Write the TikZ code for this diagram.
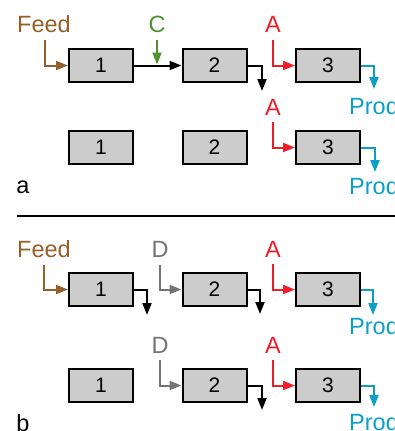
\documentclass[tikz,border=0pt]{standalone}
\usepackage{fontspec}
\setmainfont{Liberation Sans}
\usetikzlibrary{arrows.meta}
\definecolor{feedc}{RGB}{150,95,40}
\definecolor{cc}{RGB}{80,145,50}
\definecolor{ac}{RGB}{237,30,40}
\definecolor{prodc}{RGB}{10,160,200}
\definecolor{dc}{RGB}{115,115,115}
\definecolor{boxc}{RGB}{204,204,204}
\begin{document}
\begin{tikzpicture}[x=1pt,y=-1pt,
  unit/.style={draw=black,line width=2pt,fill=boxc,minimum width=64pt,minimum height=33pt,inner sep=0pt,font=\fontsize{21}{21}\selectfont},
  lab/.style={anchor=base,inner sep=0pt,font=\fontsize{23.5}{23.5}\selectfont},
  flow/.style={line width=2pt,-{Triangle[length=12pt,width=9pt]}},
  plain/.style={line width=2pt}]
\useasboundingbox (0,0) rectangle (395,431);
% ---------- panel a, row 1
\node[unit] (a11) at (101,65.5) {1};
\node[unit] (a12) at (214.5,65.5) {2};
\node[unit] (a13) at (328,65.5) {3};
\node[lab,text=feedc] (afeed) at (44,32) {Feed};
\node[lab,text=cc] (ac) at (157,32) {C};
\node[lab,text=ac] (aa1) at (273,32) {A};
\node[lab,text=prodc,anchor=base west] (ap1) at (349,114) {Prod};
\coordinate (afs) at (45,40);
\coordinate (acs) at (157,40);
\coordinate (acm) at (157,65.5);
\coordinate (aas1) at (273,40);
\coordinate (ae12) at (262,91);
\coordinate (ae13) at (374,89);
\draw[flow,feedc] (afs) |- (a11);
\draw[flow,black] (a11) -- (a12);
\draw[flow,cc] (acs) -- ([yshift=1pt]acm);
\draw[flow,black] (a12.east) -| (ae12);
\draw[flow,ac] (aas1) |- (a13);
\draw[flow,prodc] (a13.east) -| (ae13);
% ---------- panel a, row 2
\node[unit] (a21) at (101,147.5) {1};
\node[unit] (a22) at (214.5,147.5) {2};
\node[unit] (a23) at (328,147.5) {3};
\node[lab,text=ac] (aa2) at (273,115) {A};
\node[lab,text=prodc,anchor=base west] (ap2) at (349,194) {Prod};
\node[lab,anchor=base] (alab) at (23,193) {a};
\coordinate (aas2) at (273,122);
\coordinate (ae23) at (375,172);
\draw[flow,ac] (aas2) |- (a23);
\draw[flow,prodc] (a23.east) -| (ae23);
% ---------- separator
\coordinate (sepl) at (17,216);
\coordinate (sepr) at (395,216);
\draw[line width=1.6pt] (sepl) -- (sepr);
% ---------- panel b, row 1
\node[unit] (b11) at (101,289.5) {1};
\node[unit] (b12) at (214.5,289.5) {2};
\node[unit] (b13) at (328,289.5) {3};
\node[lab,text=feedc] (bfeed) at (44,257) {Feed};
\node[lab,text=dc] (bd1) at (160,257) {D};
\node[lab,text=ac] (ba1) at (273,257) {A};
\node[lab,text=prodc,anchor=base west] (bp1) at (349,334) {Prod};
\coordinate (bfs) at (44,265);
\coordinate (bds1) at (160,265);
\coordinate (bas1) at (273,264);
\coordinate (be11) at (147,315);
\coordinate (be12) at (260,314);
\coordinate (be13) at (373,315);
\draw[flow,feedc] (bfs) |- (b11);
\draw[flow,black] (b11.east) -| (be11);
\draw[flow,dc] (bds1) |- (b12);
\draw[flow,black] (b12.east) -| (be12);
\draw[flow,ac] (bas1) |- (b13);
\draw[flow,prodc] (b13.east) -| (be13);
% ---------- panel b, row 2
\node[unit] (b21) at (101,385.5) {1};
\node[unit] (b22) at (214.5,385.5) {2};
\node[unit] (b23) at (328,385.5) {3};
\node[lab,text=dc] (bd2) at (160,353) {D};
\node[lab,text=ac] (ba2) at (273,353) {A};
\node[lab,text=prodc,anchor=base west] (bp2) at (349,430) {Prod};
\node[lab,anchor=base] (blab) at (23,431) {b};
\coordinate (bds2) at (160,360);
\coordinate (bas2) at (273,360);
\coordinate (be22) at (262,410);
\coordinate (be23) at (374,407);
\draw[flow,dc] (bds2) |- (b22);
\draw[flow,black] (b22.east) -| (be22);
\draw[flow,ac] (bas2) |- (b23);
\draw[flow,prodc] (b23.east) -| (be23);
\end{tikzpicture}
\end{document}
